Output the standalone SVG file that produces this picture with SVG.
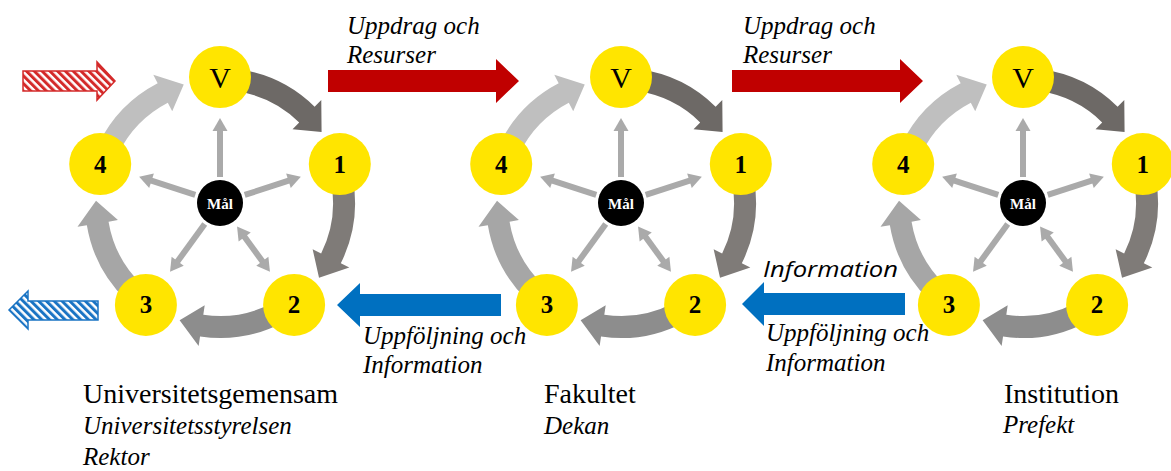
<svg xmlns="http://www.w3.org/2000/svg" xmlns:xlink="http://www.w3.org/1999/xlink" width="1171" height="471" viewBox="0 0 1171 471">
<style>
.node{fill:#ffe500}
.goal{fill:#000}
</style>
<defs>
<path id="arc" d="M18.79,-133.69 A135,135 0 0 1 94.62,-96.29 L101.28,-103.06 L101.58,-71.12 L72.54,-73.82 L79.20,-80.60 A113,113 0 0 0 15.73,-111.90 Z"/>
<g id="spoke">
<line x1="0" y1="-26" x2="0" y2="-73" stroke="#aaaaaa" stroke-width="6"/>
<polygon points="0,-85 -7.5,-72 7.5,-72" fill="#aaaaaa"/>
</g>
<g id="spoke2">
<line x1="0" y1="-41" x2="0" y2="-73" stroke="#aaaaaa" stroke-width="6"/>
<polygon points="0,-85 -7.5,-72 7.5,-72" fill="#aaaaaa"/>
<polygon points="0,-29 -7.5,-42 7.5,-42" fill="#aaaaaa"/>
</g>
<pattern id="hatchR" width="5.5" height="5.5" patternUnits="userSpaceOnUse" patternTransform="rotate(-45)">
<rect width="5.5" height="5.5" fill="#fff"/><rect width="3" height="5.5" fill="#d42a2a"/>
</pattern>
<pattern id="hatchB" width="5.5" height="5.5" patternUnits="userSpaceOnUse" patternTransform="rotate(-45)">
<rect width="5.5" height="5.5" fill="#fff"/><rect width="3" height="5.5" fill="#1a74c4"/>
</pattern>
</defs>

<g id="connectors">
<g id="cycle1-arrows" transform="translate(220,203)">
<use xlink:href="#arc" fill="#6d6966"/>
<use xlink:href="#arc" transform="rotate(72)" fill="#7f7b78"/>
<use xlink:href="#arc" transform="rotate(144)" fill="#8d8d8d"/>
<use xlink:href="#arc" transform="rotate(216)" fill="#a6a6a6"/>
<use xlink:href="#arc" transform="rotate(288)" fill="#bfbfbf"/>
<use xlink:href="#spoke"/>
<use xlink:href="#spoke" transform="rotate(72)"/>
<use xlink:href="#spoke2" transform="rotate(144)"/>
<use xlink:href="#spoke" transform="rotate(216)"/>
<use xlink:href="#spoke" transform="rotate(288)"/>
</g>
<g id="cycle2-arrows" transform="translate(621,203)">
<use xlink:href="#arc" fill="#6d6966"/>
<use xlink:href="#arc" transform="rotate(72)" fill="#7f7b78"/>
<use xlink:href="#arc" transform="rotate(144)" fill="#8d8d8d"/>
<use xlink:href="#arc" transform="rotate(216)" fill="#a6a6a6"/>
<use xlink:href="#arc" transform="rotate(288)" fill="#bfbfbf"/>
<use xlink:href="#spoke"/>
<use xlink:href="#spoke" transform="rotate(72)"/>
<use xlink:href="#spoke2" transform="rotate(144)"/>
<use xlink:href="#spoke" transform="rotate(216)"/>
<use xlink:href="#spoke" transform="rotate(288)"/>
</g>
<g id="cycle3-arrows" transform="translate(1023,203)">
<use xlink:href="#arc" fill="#6d6966"/>
<use xlink:href="#arc" transform="rotate(72)" fill="#7f7b78"/>
<use xlink:href="#arc" transform="rotate(144)" fill="#8d8d8d"/>
<use xlink:href="#arc" transform="rotate(216)" fill="#a6a6a6"/>
<use xlink:href="#arc" transform="rotate(288)" fill="#bfbfbf"/>
<use xlink:href="#spoke"/>
<use xlink:href="#spoke" transform="rotate(72)"/>
<use xlink:href="#spoke2" transform="rotate(144)"/>
<use xlink:href="#spoke" transform="rotate(216)"/>
<use xlink:href="#spoke" transform="rotate(288)"/>
</g>
<polygon id="red1" points="328,70 496,70 496,59 519,81 496,103 496,92 328,92" fill="#c00000"/>
<polygon id="red2" points="732,70 900,70 900,59 923,81 900,103 900,92 732,92" fill="#c00000"/>
<polygon id="blue1" points="501,294 360,294 360,283 337,305 360,327 360,316 501,316" fill="#0070c0"/>
<polygon id="blue2" points="905,293 764,293 764,282 742,304 764,326 764,315 905,315" fill="#0070c0"/>
<polygon id="hatch-red" points="23,71 97,71 97,62 115,81 97,100 97,91 23,91" fill="url(#hatchR)" stroke="#d42a2a" stroke-width="1.5"/>
<polygon id="hatch-blue" points="98,301 28,301 28,291 9,310 28,329 28,320 98,320" fill="url(#hatchB)" stroke="#1a74c4" stroke-width="1.5"/>
</g>

<g id="nodes" font-family="Liberation Serif, serif" text-anchor="middle">
<g id="c1-V"><circle class="node" cx="220" cy="77" r="31"/><text x="220" y="88" font-size="30">V</text></g>
<g id="c1-1"><circle class="node" cx="339.8" cy="164.1" r="31"/><text x="339.8" y="172.5" font-size="25" font-weight="bold">1</text></g>
<g id="c1-2"><circle class="node" cx="294.1" cy="304.9" r="31"/><text x="294.1" y="313.3" font-size="25" font-weight="bold">2</text></g>
<g id="c1-3"><circle class="node" cx="145.9" cy="304.9" r="31"/><text x="145.9" y="313.3" font-size="25" font-weight="bold">3</text></g>
<g id="c1-4"><circle class="node" cx="100.2" cy="164.1" r="31"/><text x="100.2" y="172.5" font-size="25" font-weight="bold">4</text></g>
<g id="c1-mal"><circle class="goal" cx="220" cy="203" r="23"/><text x="220" y="208.5" font-size="15" font-weight="bold" fill="#fff">Mål</text></g>

<g id="c2-V"><circle class="node" cx="621" cy="77" r="31"/><text x="621" y="88" font-size="30">V</text></g>
<g id="c2-1"><circle class="node" cx="740.8" cy="164.1" r="31"/><text x="740.8" y="172.5" font-size="25" font-weight="bold">1</text></g>
<g id="c2-2"><circle class="node" cx="695.1" cy="304.9" r="31"/><text x="695.1" y="313.3" font-size="25" font-weight="bold">2</text></g>
<g id="c2-3"><circle class="node" cx="546.9" cy="304.9" r="31"/><text x="546.9" y="313.3" font-size="25" font-weight="bold">3</text></g>
<g id="c2-4"><circle class="node" cx="501.2" cy="164.1" r="31"/><text x="501.2" y="172.5" font-size="25" font-weight="bold">4</text></g>
<g id="c2-mal"><circle class="goal" cx="621" cy="203" r="23"/><text x="621" y="208.5" font-size="15" font-weight="bold" fill="#fff">Mål</text></g>

<g id="c3-V"><circle class="node" cx="1023" cy="77" r="31"/><text x="1023" y="88" font-size="30">V</text></g>
<g id="c3-1"><circle class="node" cx="1142.8" cy="164.1" r="31"/><text x="1142.8" y="172.5" font-size="25" font-weight="bold">1</text></g>
<g id="c3-2"><circle class="node" cx="1097.1" cy="304.9" r="31"/><text x="1097.1" y="313.3" font-size="25" font-weight="bold">2</text></g>
<g id="c3-3"><circle class="node" cx="948.9" cy="304.9" r="31"/><text x="948.9" y="313.3" font-size="25" font-weight="bold">3</text></g>
<g id="c3-4"><circle class="node" cx="903.2" cy="164.1" r="31"/><text x="903.2" y="172.5" font-size="25" font-weight="bold">4</text></g>
<g id="c3-mal"><circle class="goal" cx="1023" cy="203" r="23"/><text x="1023" y="208.5" font-size="15" font-weight="bold" fill="#fff">Mål</text></g>
</g>

<g id="labels" font-family="Liberation Serif, serif" fill="#000">
<g font-size="25" font-style="italic">
<text x="347" y="34">Uppdrag och</text>
<text x="347" y="63">Resurser</text>
<text x="743" y="34">Uppdrag och</text>
<text x="743" y="63">Resurser</text>
<text x="363" y="344">Uppföljning och</text>
<text x="363" y="373">Information</text>
<text x="766" y="341">Uppföljning och</text>
<text x="766" y="371">Information</text>
<text x="83" y="434">Universitetsstyrelsen</text>
<text x="83" y="465">Rektor</text>
<text x="544" y="434">Dekan</text>
<text x="1003" y="433">Prefekt</text>
</g>
<g font-size="28">
<text x="83" y="403">Universitetsgemensam</text>
<text x="544" y="403">Fakultet</text>
<text x="1004" y="403">Institution</text>
</g>
<text x="763" y="277" font-family="Open Sans, Liberation Sans, sans-serif" font-size="22" font-style="italic" textLength="135" lengthAdjust="spacingAndGlyphs">Information</text>
</g>
</svg>
